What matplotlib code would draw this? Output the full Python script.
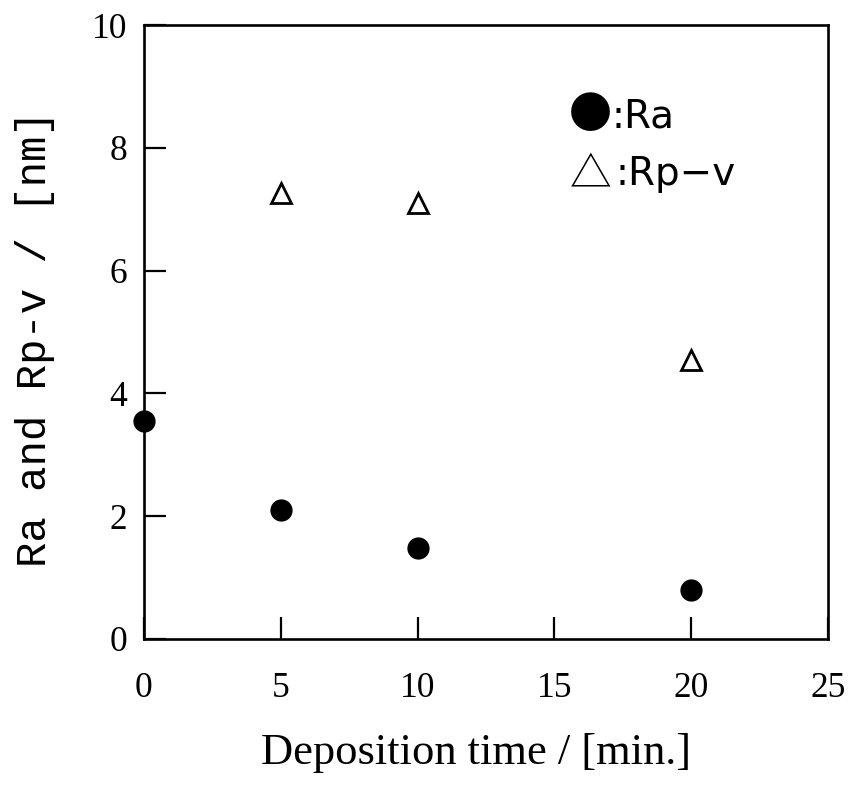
import matplotlib.pyplot as plt

# deposition time [min] and roughness values [nm]
time_ra = [0, 5, 10, 20]
ra = [3.55, 2.1, 1.48, 0.8]
time_rpv = [5, 10, 20]
rpv = [7.26, 7.1, 4.54]

x_ticks = [0, 5, 10, 15, 20, 25]
y_ticks = [0, 2, 4, 6, 8, 10]

fig = plt.figure(figsize=(8.52, 7.85), dpi=100)
ax = fig.add_axes([0.169, 0.186, 0.803, 0.782])

ax.plot(time_ra, ra, linestyle='none', marker='o', markersize=15,
        color='black', clip_on=False, zorder=5)
ax.plot(time_rpv, rpv, linestyle='none', marker='^', markersize=14,
        markerfacecolor='white', markeredgecolor='black', markeredgewidth=2,
        clip_on=False, zorder=5)

ax.set_xlim(0, 25)
ax.set_ylim(0, 10)
ax.set_xticks(x_ticks)
ax.set_yticks(y_ticks)

serif = 'Liberation Serif'
ax.set_xticklabels([str(t) for t in x_ticks], family=serif, fontsize=25.5)
ax.set_yticklabels([str(t) for t in y_ticks], family=serif, fontsize=25.5)
ax.tick_params(axis='x', direction='in', length=16, width=1.6, pad=24)
ax.tick_params(axis='y', direction='in', length=16, width=1.6, pad=12)

for s in ax.spines.values():
    s.set_linewidth(1.9)

ax.set_xlabel('Deposition time / [min.]', family=serif, fontsize=32, labelpad=20)
ax.xaxis.label.set_x(0.485)
ax.set_ylabel('Ra and Rp-v / [nm]', family='Liberation Mono', fontsize=30.5,
              ha='center', va='center')
ax.yaxis.set_label_coords(-0.159, 0.49)

# legend written as text like in the original
sym_font = ['Noto Sans CJK JP', 'DejaVu Sans']
ax.text(0.652, 0.852, '●', transform=ax.transAxes, family=sym_font,
        fontsize=31, ha='center', va='center')
ax.text(0.653, 0.756, '△', transform=ax.transAxes, family=sym_font,
        fontsize=30, ha='center', va='center')
ax.text(0.684, 0.834, ':Ra', transform=ax.transAxes, family='DejaVu Sans',
        fontsize=28, ha='left', va='baseline')
ax.text(0.689, 0.739, ':Rp\u2212v', transform=ax.transAxes, family='DejaVu Sans',
        fontsize=28, ha='left', va='baseline')

fig.savefig('out.png', dpi=100)
